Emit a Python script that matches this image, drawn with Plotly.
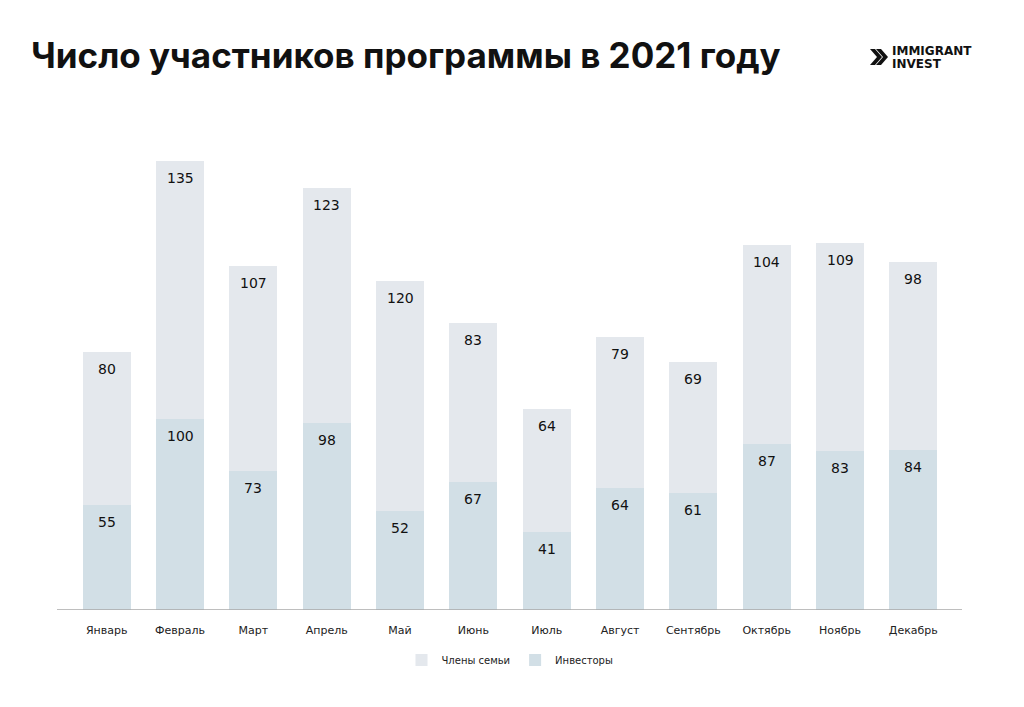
import plotly.graph_objects as go

months = ["Январь", "Февраль", "Март", "Апрель", "Май", "Июнь", "Июль",
          "Август", "Сентябрь", "Октябрь", "Ноябрь", "Декабрь"]
investors = [55, 100, 73, 98, 52, 67, 41, 64, 61, 87, 83, 84]
family = [80, 135, 107, 123, 120, 83, 64, 79, 69, 104, 109, 98]

W, H = 1024, 707
L, R, T, B = 70, 74, 100, 97
PW, PH = W - L - R, H - T - B

def px(x):
    return (x - L) / PW

def py(y):
    return (H - B - y) / PH

fig = go.Figure()
fig.add_trace(go.Bar(
    x=months, y=investors, name="Инвесторы",
    marker=dict(color="#d2dfe6", line=dict(width=0)),
    legendrank=2, hoverinfo="skip",
))
fig.add_trace(go.Bar(
    x=months, y=family, name="Члены семьи",
    marker=dict(color="#e4e8ed", line=dict(width=0)),
    legendrank=1, hoverinfo="skip",
))

annotations = []
for m, inv, fam in zip(months, investors, family):
    annotations.append(dict(x=m, y=inv, xref="x", yref="y", text=str(inv), showarrow=False,
                            yanchor="middle", yshift=-17,
                            font=dict(family="DejaVu Sans", size=14, color="#111111")))
    annotations.append(dict(x=m, y=inv + fam, xref="x", yref="y", text=str(fam), showarrow=False,
                            yanchor="middle", yshift=-17,
                            font=dict(family="DejaVu Sans", size=14, color="#111111")))

annotations += [
    dict(text="<b>Число участников программы в 2021 году</b>", xref="paper", yref="paper",
         x=px(29), y=py(55), xanchor="left", yanchor="middle",
         showarrow=False, font=dict(family="Inter", size=35, color="#111111")),
    dict(text="<b>IMMIGRANT</b>", xref="paper", yref="paper",
         x=px(891), y=py(51), xanchor="left", yanchor="middle",
         showarrow=False, align="left", borderpad=0,
         font=dict(family="DejaVu Sans", size=12, color="#111111")),
    dict(text="<b>INVEST</b>", xref="paper", yref="paper",
         x=px(891), y=py(64), xanchor="left", yanchor="middle",
         showarrow=False, align="left", borderpad=0,
         font=dict(family="DejaVu Sans", size=12, color="#111111")),
]

def chevron(x0):
    return "M {a},{b} L {c},{d} L {a},{e} L {f},{e} L {g},{d} L {f},{b} Z".format(
        a=px(x0), b=py(49), c=px(x0 + 7), d=py(57), e=py(65),
        f=px(x0 + 5), g=px(x0 + 12))

fig.update_layout(
    width=W, height=H,
    barmode="stack", bargap=0.345,
    plot_bgcolor="white", paper_bgcolor="white",
    margin=dict(l=L, r=R, t=T, b=B, autoexpand=False),
    xaxis=dict(showgrid=False, showline=False, zeroline=False,
               ticks="outside", ticklen=10, tickcolor="rgba(0,0,0,0)",
               tickfont=dict(family="DejaVu Sans", size=11, color="#222222"),
               fixedrange=True, automargin=False),
    yaxis=dict(range=[0, 267], visible=False, fixedrange=True, automargin=False),
    showlegend=True,
    legend=dict(orientation="h", x=0.5, xanchor="center", y=py(660), yanchor="middle",
                font=dict(family="DejaVu Sans", size=10, color="#222222"),
                itemwidth=30, traceorder="normal", bgcolor="rgba(0,0,0,0)"),
    annotations=annotations,
    shapes=[
        dict(type="line", xref="paper", yref="y", x0=px(57), x1=px(962),
             y0=0, y1=0, line=dict(color="#a8a8a8", width=1.5)),
        dict(type="path", xref="paper", yref="paper", path=chevron(870),
             fillcolor="#111111", line=dict(width=0)),
        dict(type="path", xref="paper", yref="paper", path=chevron(876),
             fillcolor="#111111", line=dict(width=0)),
    ],
)

fig.write_html("out.html")
